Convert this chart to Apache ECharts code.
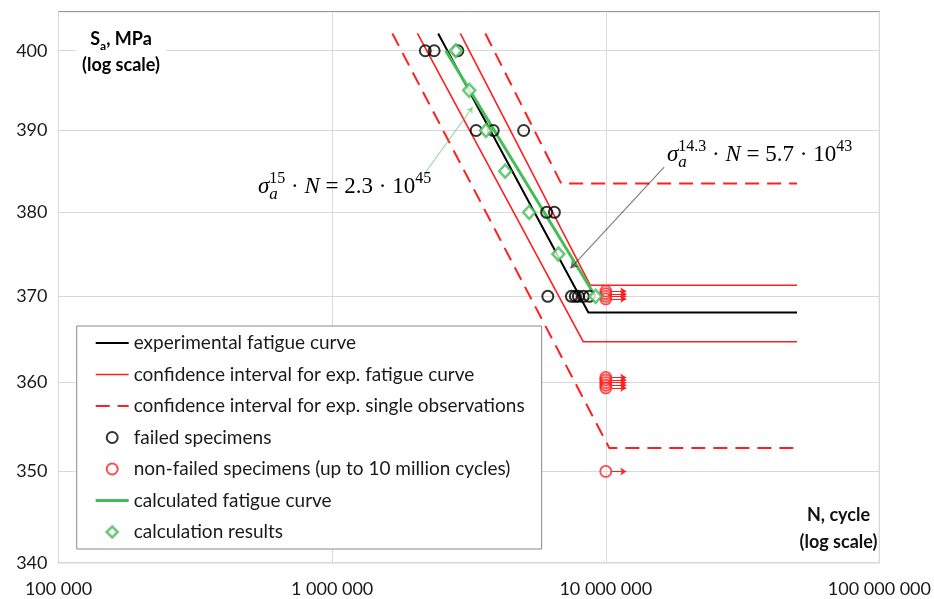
<!DOCTYPE html>
<html><head><meta charset="utf-8">
<script src="https://cdn.jsdelivr.net/npm/echarts@6/dist/echarts.min.js"></script>
<style>html,body{margin:0;padding:0;background:#fff}#c{width:934px;height:599px}</style>
</head><body><div id="c"></div>
<script>
// ---------- data (N = cycles, S = stress amplitude MPa) ----------
const xTicks = [1e5, 1e6, 1e7, 1e8];
const yTicks = [340, 350, 360, 370, 380, 390, 400];

const expCurveN = [2.44e6, 8.64e6, 5.0e7];
const expCurveS = [402.2, 368.1, 368.1];
const ciUpperN = [2.94e6, 8.78e6, 5.0e7];
const ciUpperS = [402.2, 371.3, 371.3];
const ciLowerN = [2.05e6, 8.28e6, 5.0e7];
const ciLowerS = [402.2, 364.7, 364.7];
const obsUpperN = [3.63e6, 6.87e6, 5.0e7];
const obsUpperS = [402.2, 383.5, 383.5];
const obsLowerN = [1.66e6, 1.03e7, 5.0e7];
const obsLowerS = [402.2, 352.6, 352.6];
const calcCurveN = [2.60e6, 9.16e6];
const calcCurveS = [400, 370];
const calcResN = [2.83e6, 3.17e6, 3.65e6, 4.29e6, 5.25e6, 6.71e6, 9.18e6];
const calcResS = [400, 395, 390, 385, 380, 375, 370];
const failedN = [2.19e6, 2.36e6, 2.88e6, 3.36e6, 3.88e6, 5.01e6, 6.08e6, 6.49e6, 6.14e6, 7.49e6, 7.74e6, 7.94e6, 8.28e6, 8.71e6];
const failedS = [400, 400, 400, 390, 390, 390, 380, 380, 370, 370, 370, 370, 370, 370];
const nonFailedN = [1e7, 1e7, 1e7, 1e7, 1e7, 1e7, 1e7, 1e7, 1e7, 1e7];
const nonFailedS = [370.6, 370.3, 370.0, 369.7, 360.6, 360.3, 360.0, 359.7, 359.4, 350];

// annotation leader lines [N, S] start -> end
const greenLeaderN = [2.20e6, 3.26e6];
const greenLeaderS = [384.9, 392.9];
const blackLeaderN = [1.634e7, 7.43e6];
const blackLeaderS = [385.5, 373.3];

const names = {
  exp: 'experimental fatigue curve',
  ci: 'confidence interval for exp. fatigue curve',
  obs: 'confidence interval for exp. single observations',
  failed: 'failed specimens',
  nonFailed: 'non-failed specimens (up to 10 million cycles)',
  calc: 'calculated fatigue curve',
  calcRes: 'calculation results'
};

// ---------- helpers ----------
const L = Math.log10;
const pts = (ns, ss) => ns.map((n, i) => [L(n), L(ss[i])]);
const fmtN = n => String(n).replace(/\B(?=(\d{3})+(?!\d))/g, ' ');

const RED = '#ff1f1f', GREEN = '#44be54', BLACK = '#000000';
const DASH = [14, 8];
const FONT = 'Lato';
const MATH = 'Liberation Serif';

const lineSeries = (name, data, color, width, type) => ({
  name, type: 'line', data, symbol: 'none', silent: true,
  lineStyle: { color, width, type: type || 'solid' }, itemStyle: { color },
  z: 3
});

const arrowData = nonFailedN.map((n, i) => ({ coords: [[L(n) + 0.021, L(nonFailedS[i])], [L(n) + 0.075, L(nonFailedS[i])]] }));

const mathRich = (color) => ({
  v: { fontFamily: MATH, fontStyle: 'italic', fontSize: 23, lineHeight: 32, color, verticalAlign: 'middle' },
  n: { fontFamily: MATH, fontSize: 23, lineHeight: 32, color, verticalAlign: 'middle' },
  sb: { fontFamily: MATH, fontStyle: 'italic', fontSize: 17, lineHeight: 14, color, verticalAlign: 'bottom', width: 0 },
  sp: { fontFamily: MATH, fontSize: 16, lineHeight: 14, color, verticalAlign: 'top' }
});

const hiddenSym = { color: 'rgba(0,0,0,0)', borderWidth: 0, opacity: 0 };

const chart = echarts.init(document.getElementById('c'), null, { renderer: 'canvas' });
const option = {
  animation: false,
  backgroundColor: '#fff',
  grid: { left: 58.5, right: 52, top: 11.6, bottom: 36.3, show: true, borderColor: '#8a8a8a', borderWidth: 1 },
  xAxis: {
    type: 'value', min: L(xTicks[0]), max: L(xTicks[xTicks.length - 1]), interval: 1,
    axisLine: { show: false }, axisTick: { show: false },
    splitLine: { show: true, lineStyle: { color: '#d9d9d9', width: 1 } },
    axisLabel: { fontFamily: FONT, fontSize: 18, color: '#1a1a1a', margin: 17, showMinLabel: true, showMaxLabel: true,
      formatter: v => fmtN(Math.round(Math.pow(10, v))) }
  },
  yAxis: {
    type: 'value', min: L(340), max: L(405),
    axisLine: { show: false },
    axisTick: { show: false, customValues: yTicks.map(L) },
    splitLine: { show: true, lineStyle: { color: '#d9d9d9', width: 1 } },
    axisLabel: { fontFamily: FONT, fontSize: 18, color: '#1a1a1a', margin: 11, customValues: yTicks.map(L),
      formatter: v => String(Math.round(Math.pow(10, v))) }
  },
  legend: {
    orient: 'vertical', left: 76.7, top: 326,
    backgroundColor: '#fff', borderColor: '#8a8a8a', borderWidth: 1,
    padding: [7, 17, 7, 17.5], itemGap: 11.5, itemWidth: 33, itemHeight: 11,
    textStyle: { fontFamily: FONT, fontSize: 19, color: '#1a1a1a', lineHeight: 20 },
    selectedMode: false,
    data: [
      { name: names.exp, itemStyle: hiddenSym, lineStyle: { color: BLACK, width: 2 } },
      { name: names.ci, itemStyle: hiddenSym, lineStyle: { color: RED, width: 1.6 } },
      { name: names.obs, itemStyle: hiddenSym, lineStyle: { color: RED, width: 2, type: DASH } },
      { name: names.failed },
      { name: names.nonFailed },
      { name: names.calc, itemStyle: hiddenSym, lineStyle: { color: GREEN, width: 3 } },
      { name: names.calcRes, icon: 'path://M5,0L10,5L5,10L0,5Z',
        itemStyle: { color: '#fff', borderColor: GREEN, borderWidth: 2.5 } }
    ]
  },
  series: [
    lineSeries(names.obs, pts(obsUpperN, obsUpperS), RED, 2, DASH),
    lineSeries(names.obs, pts(obsLowerN, obsLowerS), RED, 2, DASH),
    lineSeries(names.ci, pts(ciUpperN, ciUpperS), RED, 1.6),
    lineSeries(names.ci, pts(ciLowerN, ciLowerS), RED, 1.6),
    lineSeries(names.exp, pts(expCurveN, expCurveS), BLACK, 2),
    Object.assign(lineSeries(names.calc, pts(calcCurveN, calcCurveS), GREEN, 3), { z: 4 }),
    {
      name: names.failed, type: 'scatter', data: pts(failedN, failedS), symbol: 'circle', symbolSize: 11,
      itemStyle: { color: 'rgba(255,255,255,0)', borderColor: BLACK, borderWidth: 2 }, z: 5, silent: true
    },
    {
      name: names.nonFailed, type: 'scatter', data: pts(nonFailedN, nonFailedS), symbol: 'circle', symbolSize: 11,
      itemStyle: { color: 'rgba(255,255,255,0)', borderColor: RED, borderWidth: 1.8 }, z: 5, silent: true
    },
    {
      name: names.calcRes, type: 'scatter', data: pts(calcResN, calcResS), symbol: 'diamond', symbolSize: [12, 13],
      itemStyle: { color: '#fff', borderColor: GREEN, borderWidth: 2.5 }, z: 6, silent: true
    },
    {
      type: 'lines', coordinateSystem: 'cartesian2d', data: arrowData, silent: true,
      symbol: ['none', 'arrow'], symbolSize: 6, lineStyle: { color: RED, width: 1, opacity: 1 }, z: 5
    },
    {
      type: 'lines', coordinateSystem: 'cartesian2d', silent: true, symbol: ['none', 'arrow'], symbolSize: 6,
      data: [{ coords: pts(greenLeaderN, greenLeaderS), lineStyle: { color: GREEN, width: 1.2 } }], z: 7
    },
    {
      type: 'lines', coordinateSystem: 'cartesian2d', silent: true, symbol: ['none', 'arrow'], symbolSize: 7,
      data: [{ coords: pts(blackLeaderN, blackLeaderS), lineStyle: { color: BLACK, width: 1.2 } }], z: 7
    }
  ],
  graphic: [
    {
      type: 'text', x: 121, y: 52.5, z: 10,
      style: {
        text: '{b|S}{bs|a}{b|, MPa}\n{b|(log scale)}', align: 'center', verticalAlign: 'middle',
        backgroundColor: '#fff', padding: [2, 6],
        rich: {
          b: { fontFamily: FONT, fontWeight: 'bold', fontSize: 18, lineHeight: 26, color: '#111' },
          bs: { fontFamily: FONT, fontWeight: 'bold', fontSize: 12, lineHeight: 20, color: '#111', verticalAlign: 'bottom' }
        }
      }
    },
    {
      type: 'text', x: 838.5, y: 529, z: 10,
      style: {
        text: 'N, cycle\n(log scale)', align: 'center', verticalAlign: 'middle',
        fontFamily: FONT, fontWeight: 'bold', fontSize: 18, lineHeight: 27, fill: '#111'
      }
    },
    {
      type: 'text', x: 258, y: 187, z: 10,
      style: {
        text: '{v|σ}{sb|a}{sp|15}{n| · }{v|N}{n| = 2.3 · 10}{sp|45}', align: 'left', verticalAlign: 'middle',
        rich: mathRich('#4cc65c')
      }
    },
    {
      type: 'text', x: 667, y: 155, z: 10,
      style: {
        text: '{v|σ}{sb|a}{sp|14.3}{n| · }{v|N}{n| = 5.7 · 10}{sp|43}', align: 'left', verticalAlign: 'middle',
        rich: mathRich('#111')
      }
    }
  ]
};
chart.setOption(option);
</script>
</body></html>
